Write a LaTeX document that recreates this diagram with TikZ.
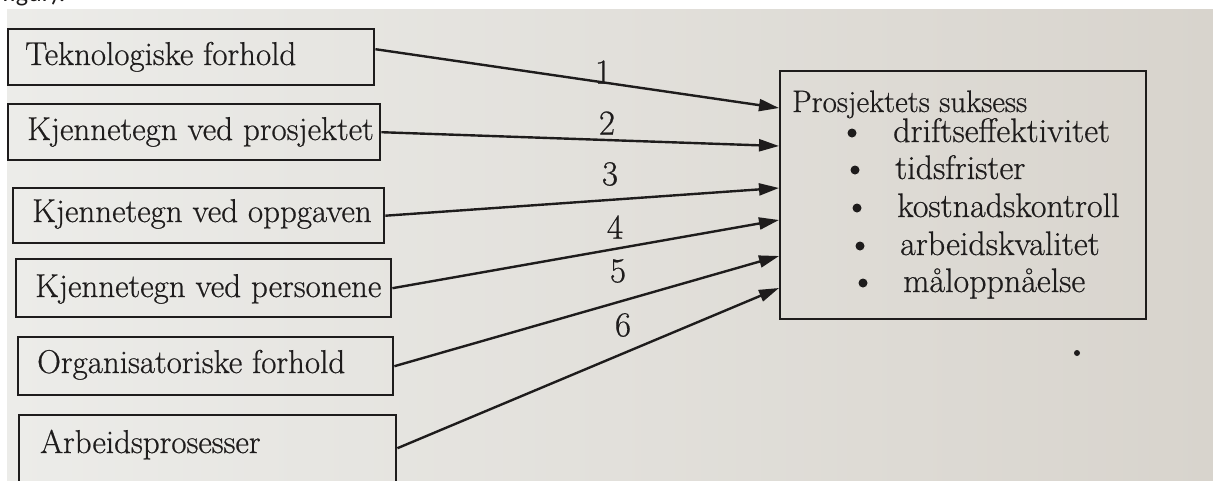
\documentclass[tikz,border=0pt]{standalone}
\usepackage{fontspec}
\newfontfamily\capfont{Carlito}
\newfontfamily\bookfont[FakeBold=0.6]{Latin Modern Roman}
\usetikzlibrary{arrows.meta}
\definecolor{paperL}{RGB}{236,236,233}
\definecolor{paperR}{RGB}{216,212,205}
\definecolor{ink}{RGB}{30,28,28}
\tikzset{
  x=1pt, y=-1pt,
  factor/.style={draw=ink, line width=2.4pt, inner sep=0pt},
  lbl/.style={font=\bookfont\fontsize{33}{36}\selectfont, text=ink, anchor=base west, inner sep=0pt},
  num/.style={font=\bookfont\fontsize{35}{38}\selectfont, text=ink},
  conn/.style={draw=ink, line width=2.4pt, -{Triangle[length=20pt,width=12pt]}},
  head/.style={font=\bookfont\fontsize{31}{34}\selectfont, text=ink, anchor=base west, inner sep=0pt},
  item/.style={font=\bookfont\fontsize{34}{36}\selectfont, text=ink, anchor=base west, inner sep=0pt},
  bul/.style={circle, fill=ink, inner sep=0pt, minimum size=9pt}
}
\begin{document}
\begin{tikzpicture}
\useasboundingbox (0,0) rectangle (1213,480);
\fill[white] (0,0) rectangle (1213,480);
\shade[left color=paperL, right color=paperR] (7,9) rectangle (1213,480);
% cut-off caption text at top
\node[anchor=base west, inner sep=0pt, font=\capfont\fontsize{26}{28}\selectfont, text=ink] (cap) at (2,1) {figur).};
% factor boxes
\node[factor, minimum width=366pt, minimum height=56pt, anchor=north west] (b1) at (7,28) {};
\node[factor, minimum width=372pt, minimum height=56pt, anchor=north west] (b2) at (7,103) {};
\node[factor, minimum width=371pt, minimum height=55pt, anchor=north west] (b3) at (12,187) {};
\node[factor, minimum width=375pt, minimum height=58pt, anchor=north west] (b4) at (15,258) {};
\node[factor, minimum width=375pt, minimum height=58pt, anchor=north west] (b5) at (17,336) {};
\node[factor, minimum width=377pt, minimum height=76pt, anchor=north west] (b6) at (18,414) {};
\node[lbl] (t1) at (25,65) {Teknologiske forhold};
\node[lbl] (t2) at (27,140) {Kjennetegn ved prosjektet};
\node[lbl] (t3) at (32,222) {Kjennetegn ved oppgaven};
\node[lbl] (t4) at (35,297) {Kjennetegn ved personene};
\node[lbl] (t5) at (37,373) {Organisatoriske forhold};
\node[lbl] (t6) at (40,453) {Arbeidsprosesser};
% success box
\node[factor, minimum width=366pt, minimum height=248pt, anchor=north west] (s) at (779,70) {};
\node[head] (sh) at (792,112) {Prosjektets suksess};
\node[bul] (d1) at (852,133) {};
\node[bul] (d2) at (855,170) {};
\node[bul] (d3) at (857,208) {};
\node[bul] (d4) at (860,246) {};
\node[bul] (d5) at (863,283) {};
\node[item] (i1) at (893,142) {driftseffektivitet};
\node[item] (i2) at (895,179) {tidsfrister};
\node[item] (i3) at (897,217) {kostnadskontroll};
\node[item] (i4) at (900,255) {arbeidskvalitet};
\node[item] (i5) at (903,292) {måloppnåelse};
% arrow end points on the success box
\coordinate (e1) at (779,108);
\coordinate (e2) at (779,146);
\coordinate (e3) at (779,188);
\coordinate (e4) at (779,220);
\coordinate (e5) at (779,256);
\coordinate (e6) at (779,288);
\draw[conn] (b1.east) ++(0,-8) coordinate (s1) -- (e1);
\draw[conn] (b2.east) -- (e2);
\draw[conn] (b3.east) -- (e3);
\draw[conn] (b4.east) -- (e4);
\draw[conn] (b5.east) -- (e5);
\draw[conn] (b6.east) ++(0,-5) coordinate (s6) -- (e6);
\node[num] (n1) at (603,72) {1};
\node[num] (n2) at (607,123) {2};
\node[num] (n3) at (610,174) {3};
\node[num] (n4) at (615,227) {4};
\node[num] (n5) at (618,271) {5};
\node[num] (n6) at (623,325) {6};
% speck
\fill[ink] (1077,353) circle (3pt);
\end{tikzpicture}
\end{document}
